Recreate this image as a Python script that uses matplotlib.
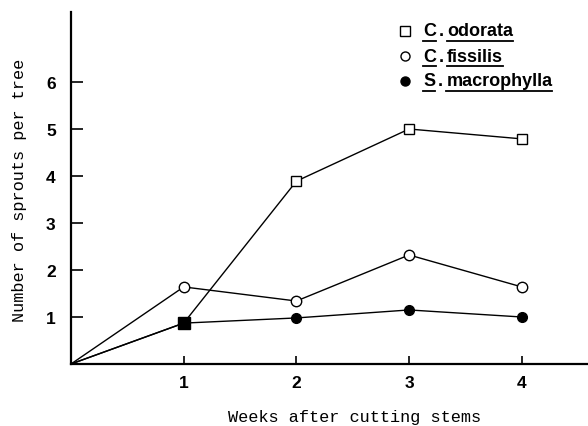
import numpy as np
import matplotlib.pyplot as plt
from matplotlib.lines import Line2D

# Sprout counts per tree after cutting the stems
weeks = [0, 1, 2, 3, 4]
odorata = [0, 0.87, 3.89, 5.0, 4.79]
fissilis = [0, 1.64, 1.34, 2.32, 1.64]
macrophylla = [0, 0.87, 0.98, 1.15, 1.0]

x_ticks = [1, 2, 3, 4]
y_ticks = [1, 2, 3, 4, 5, 6]

W, H = 588, 427
fig = plt.figure(figsize=(W / 100, H / 100), dpi=100)
ax = fig.add_axes([71 / W, (H - 365) / H, 1 - 71 / W, (365 - 13) / H])

lw = 1.0
ax.plot(weeks, odorata, color='black', lw=lw, marker='s', ms=7,
        mfc='white', mec='black', mew=1.0, markevery=[2, 3, 4], zorder=3)
ax.plot(weeks, fissilis, color='black', lw=lw, marker='o', ms=7.5,
        mfc='white', mec='black', mew=1.0, markevery=[1, 2, 3, 4], zorder=3)
ax.plot(weeks, macrophylla, color='black', lw=lw, marker='o', ms=7,
        mfc='black', mec='black', markevery=[2, 3, 4], zorder=3)
# week 1: the two species overlap, shown as a filled square
ax.plot(weeks[1], odorata[1], marker='s', ms=8, color='black', ls='none', zorder=4)

ax.set_xlim(0, (588 - 71) / 112.7)
ax.set_ylim(0, (365 - 13) / 47.0)
ax.set_xticks(x_ticks)
ax.set_yticks(y_ticks)

for side in ['top', 'right']:
    ax.spines[side].set_visible(False)
for side in ['left', 'bottom']:
    ax.spines[side].set_linewidth(1.6)

ax.tick_params(axis='y', direction='in', length=8.5, width=1.2, pad=11,
               labelsize=12.5)
ax.tick_params(axis='x', direction='in', length=6, width=1.2, pad=8,
               labelsize=12.5)
for lab in ax.get_xticklabels() + ax.get_yticklabels():
    lab.set_fontweight('bold')
    lab.set_fontfamily(['Liberation Sans Narrow', 'Liberation Sans'])

mono = 'Liberation Mono'
fig.text(355 / W, 1 - 418 / H, 'Weeks after cutting stems', family=mono,
         fontsize=12.2, ha='center', va='center')
fig.text(20 / W, 1 - 190 / H, 'Number of sprouts per tree', family=mono,
         fontsize=12.2, ha='center', va='center', rotation=90)

# key with underlined species names
rows = [
    ('s', 'white', 'C', 'odorata', 32),
    ('o', 'white', 'C', 'fissilis', 57),
    ('o', 'black', 'S', 'macrophylla', 82),
]
fig.canvas.draw()
rend = fig.canvas.get_renderer()
for mk, fc, genus, species, y in rows:
    fig.add_artist(Line2D([405 / W], [1 - y / H], marker=mk, ms=6.5,
                          mfc=fc, mec='black', mew=1.0, ls='none'))
    x = 423
    for piece, under in [(genus, True), ('.', False), (species, True)]:
        t = fig.text(x / W, 1 - y / H, piece, family='Liberation Sans',
                     fontweight='bold', fontsize=13, ha='left', va='center')
        bb = t.get_window_extent(rend)
        if under:
            yl = 1 - (y + 10) / H
            fig.add_artist(Line2D([bb.x0 / W, bb.x1 / W], [yl, yl],
                                  color='black', lw=1.3))
        x = bb.x1 + 3

fig.savefig('out.png', dpi=100)
